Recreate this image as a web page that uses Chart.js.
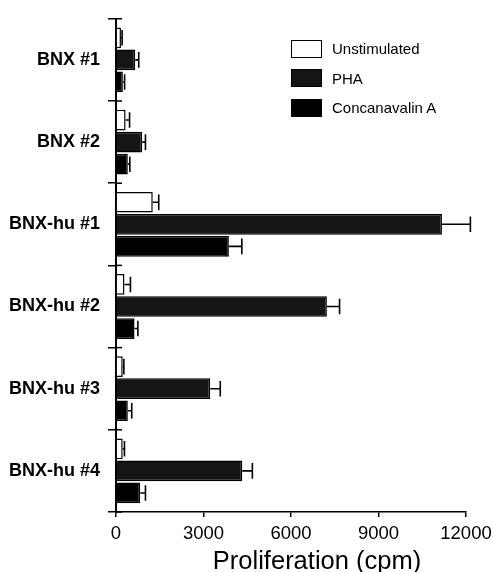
<!DOCTYPE html>
<html>
<head>
<meta charset="utf-8">
<script src="https://cdn.jsdelivr.net/npm/chart.js@4"></script>
<style>
  body { margin: 0; background: #fff; }
  #wrap { position: relative; width: 493px; height: 572px; }
  #legend { position: absolute; left: 291px; top: 34px; font: 15px "Liberation Sans", Arial, sans-serif; color: #000; }
  .row { display: flex; align-items: center; height: 29.5px; }
  .box { width: 31px; height: 18px; box-sizing: border-box; border: 1.5px solid #000; margin-right: 10px; }
</style>
</head>
<body>
<div id="wrap">
  <canvas id="myChart" width="493" height="572"></canvas>
  <div id="legend"></div>
</div>
<script>
const categories = ['BNX #1', 'BNX #2', 'BNX-hu #1', 'BNX-hu #2', 'BNX-hu #3', 'BNX-hu #4'];
const seriesNames = ['Unstimulated', 'PHA', 'Concanavalin A'];

const unstim = [170, 330, 1260, 290, 230, 230];
const unstimErr = [40, 135, 205, 205, 40, 60];
const pha = [660, 900, 11175, 7230, 3230, 4330];
const phaErr = [120, 110, 975, 435, 345, 345];
const conA = [235, 405, 3870, 635, 405, 830];
const conAErr = [60, 70, 445, 115, 135, 180];

const xTicks = [0, 3000, 6000, 9000, 12000];
const xTitle = 'Proliferation (cpm)';

const fills = ['#ffffff', '#151515', '#000000'];
const font = '"Liberation Sans", Arial, sans-serif';

// error bars drawn from the x scale
const errorBars = {
  id: 'errorBars',
  afterDatasetsDraw(chart) {
    const ctx = chart.ctx;
    const xs = chart.scales.x;
    ctx.save();
    ctx.strokeStyle = '#000';
    ctx.lineWidth = 1.6;
    chart.data.datasets.forEach((ds, i) => {
      const meta = chart.getDatasetMeta(i);
      meta.data.forEach((bar, j) => {
        const x0 = xs.getPixelForValue(ds.data[j]);
        const x1 = xs.getPixelForValue(ds.data[j] + ds.errors[j]);
        const h = bar.height * 0.75;
        ctx.beginPath();
        ctx.moveTo(x0, bar.y);
        ctx.lineTo(x1, bar.y);
        ctx.moveTo(x1, bar.y - h / 2);
        ctx.lineTo(x1, bar.y + h / 2);
        ctx.stroke();
      });
    });
    ctx.restore();
  }
};

// inner part of the y tick marks (they cross the axis) + the x axis title,
// which sits right of centre in the original
const extras = {
  id: 'extras',
  afterDraw(chart) {
    const ctx = chart.ctx;
    const ys = chart.scales.y;
    const xs = chart.scales.x;
    const n = ys.ticks.length;
    ctx.save();
    ctx.strokeStyle = '#000';
    ctx.lineWidth = 1.5;
    for (let i = 0; i <= n; i++) {
      const y = ys.top + i * (ys.bottom - ys.top) / n;
      ctx.beginPath();
      ctx.moveTo(ys.right, y);
      ctx.lineTo(ys.right + 6, y);
      ctx.stroke();
    }
    ctx.fillStyle = '#000';
    ctx.font = '25.5px ' + font;
    ctx.textAlign = 'center';
    ctx.textBaseline = 'alphabetic';
    ctx.fillText(xTitle, 317, xs.bottom - 3);
    ctx.restore();
  }
};

const series = [
  { label: seriesNames[0], data: unstim, errors: unstimErr },
  { label: seriesNames[1], data: pha, errors: phaErr },
  { label: seriesNames[2], data: conA, errors: conAErr }
];

const data = {
  labels: categories,
  datasets: series.map((s, i) => ({
    label: s.label,
    data: s.data,
    errors: s.errors,
    backgroundColor: fills[i],
    borderColor: '#000',
    borderWidth: 1.5,
    categoryPercentage: 0.805,
    barPercentage: 0.94
  }))
};

const config = {
  type: 'bar',
  data,
  options: {
    indexAxis: 'y',
    responsive: false,
    animation: false,
    layout: { padding: { top: 13, right: 0, left: 0, bottom: 0 } },
    plugins: {
      legend: { display: false },
      tooltip: { enabled: false }
    },
    scales: {
      x: {
        min: 0,
        max: 12000,
        border: { color: '#000', width: 1.5 },
        grid: { drawOnChartArea: false, color: '#000', lineWidth: 1.5, tickLength: 5 },
        ticks: {
          stepSize: 1500,
          color: '#000',
          padding: 6,
          font: { family: font, size: 18.5 },
          maxRotation: 0,
          callback: (v) => xTicks.includes(v) ? String(v) : ''
        },
        afterFit: (scale) => { scale.height = 60; scale.paddingRight = 27; }
      },
      y: {
        offset: true,
        border: { color: '#000', width: 2 },
        grid: { drawOnChartArea: false, offset: true, color: '#000', lineWidth: 1.5, tickLength: 8 },
        ticks: {
          color: '#000',
          padding: 8,
          font: { family: font, size: 18, weight: 'bold' }
        },
        afterFit: (scale) => { scale.width = 116; }
      }
    }
  },
  plugins: [errorBars, extras]
};

const myChart = new Chart(document.getElementById('myChart'), config);

// legend built from the series names and fills
const legend = document.getElementById('legend');
seriesNames.forEach((name, i) => {
  const row = document.createElement('div');
  row.className = 'row';
  const box = document.createElement('span');
  box.className = 'box';
  box.style.background = fills[i];
  const txt = document.createElement('span');
  txt.textContent = name;
  row.appendChild(box);
  row.appendChild(txt);
  legend.appendChild(row);
});
</script>
</body>
</html>
